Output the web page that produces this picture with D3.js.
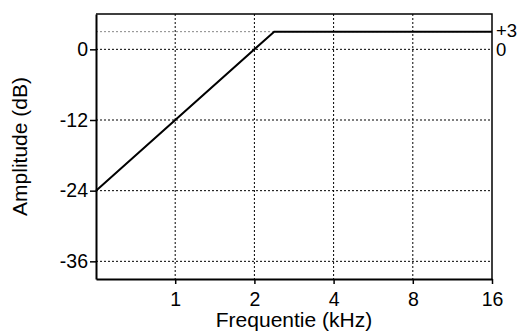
<!DOCTYPE html>
<html>
<head>
<meta charset="utf-8">
<script src="https://cdn.jsdelivr.net/npm/d3@7"></script>
<style>
  body { margin: 0; background: #fff; }
  text { font-family: "Liberation Sans", Arial, sans-serif; }
</style>
</head>
<body>
<div id="chart"></div>
<script>
// response curve (kHz, dB)
var freqs = [0.5, 2.378, 16];
var gains = [-24, 3, 3];

var xTicks = [1, 2, 4, 8, 16];
var yTicks = [-36, -24, -12, 0];
var rightLabels = ["+3", "0"];

var svgWidth = 522;
var svgHeight = 333;

var margin = { top: 14, right: 30, bottom: 54, left: 96 };
var width = svgWidth - margin.left - margin.right;
var height = svgHeight - margin.top - margin.bottom;

var svg = d3.select("#chart")
  .append("svg")
  .attr("width", svgWidth)
  .attr("height", svgHeight);

var chartGroup = svg.append("g")
  .attr("transform", `translate(${margin.left}, ${margin.top})`);

var xScale = d3.scaleLog().base(2)
  .domain([0.5, 16])
  .range([0, width]);

var yScale = d3.scaleLinear()
  .domain([-39, 6])
  .range([height, 0]);

// grid
chartGroup.selectAll(".vgrid")
  .data(xTicks.slice(0, -1))
  .enter()
  .append("line")
  .attr("x1", d => xScale(d))
  .attr("x2", d => xScale(d))
  .attr("y1", 0)
  .attr("y2", height)
  .style("stroke", "#000")
  .style("stroke-width", 1)
  .style("stroke-dasharray", "2,2");

chartGroup.selectAll(".hgrid")
  .data(yTicks)
  .enter()
  .append("line")
  .attr("x1", 0)
  .attr("x2", width)
  .attr("y1", d => yScale(d))
  .attr("y2", d => yScale(d))
  .style("stroke", "#000")
  .style("stroke-width", 1)
  .style("stroke-dasharray", "2,2");

// +3 reference line
chartGroup.append("line")
  .attr("x1", 0)
  .attr("x2", width)
  .attr("y1", yScale(3))
  .attr("y2", yScale(3))
  .style("stroke", "#888")
  .style("stroke-width", 1)
  .style("stroke-dasharray", "2,2");

// axes
var bottomAxis = d3.axisBottom(xScale)
  .tickValues(xTicks)
  .tickFormat(d => String(d))
  .tickSizeInner(5)
  .tickSizeOuter(0)
  .tickPadding(8);

var leftAxis = d3.axisLeft(yScale)
  .tickValues(yTicks)
  .tickFormat(d => String(d))
  .tickSizeInner(6)
  .tickSizeOuter(0)
  .tickPadding(2);

var xAxis = chartGroup.append("g")
  .attr("transform", `translate(0, ${height})`)
  .call(bottomAxis);

var yAxis = chartGroup.append("g")
  .call(leftAxis);

[xAxis, yAxis].forEach(function(ax) {
  ax.select(".domain").style("stroke-width", 2);
  ax.selectAll(".tick line").style("stroke-width", 1.5);
  ax.selectAll(".tick text")
    .attr("font-size", 19.5)
    .style("font-family", "Liberation Sans, Arial, sans-serif")
    .style("fill", "#000");
});

// frame top + right
chartGroup.append("path")
  .attr("d", `M0,0H${width}V${height}`)
  .style("fill", "none")
  .style("stroke", "#000")
  .style("stroke-width", 1.5);

// response line
var line = d3.line()
  .x((d, i) => xScale(freqs[i]))
  .y((d, i) => yScale(gains[i]));

chartGroup.append("path")
  .datum(freqs)
  .attr("d", line)
  .style("fill", "none")
  .style("stroke", "#000")
  .style("stroke-width", 2);

// right side labels
chartGroup.selectAll(".rlabel")
  .data(rightLabels)
  .enter()
  .append("text")
  .attr("x", width + 4)
  .attr("y", (d, i) => i === 0 ? yScale(3) + 5.5 : yScale(0) + 7)
  .attr("font-size", 18.5)
  .text(d => d);

// axis titles
chartGroup.append("text")
  .attr("x", width / 2)
  .attr("y", height + 48)
  .attr("text-anchor", "middle")
  .attr("font-size", 21)
  .text("Frequentie (kHz)");

chartGroup.append("text")
  .attr("transform", "rotate(-90)")
  .attr("x", -height / 2)
  .attr("y", -69)
  .attr("text-anchor", "middle")
  .attr("font-size", 21)
  .text("Amplitude (dB)");
</script>
</body>
</html>
